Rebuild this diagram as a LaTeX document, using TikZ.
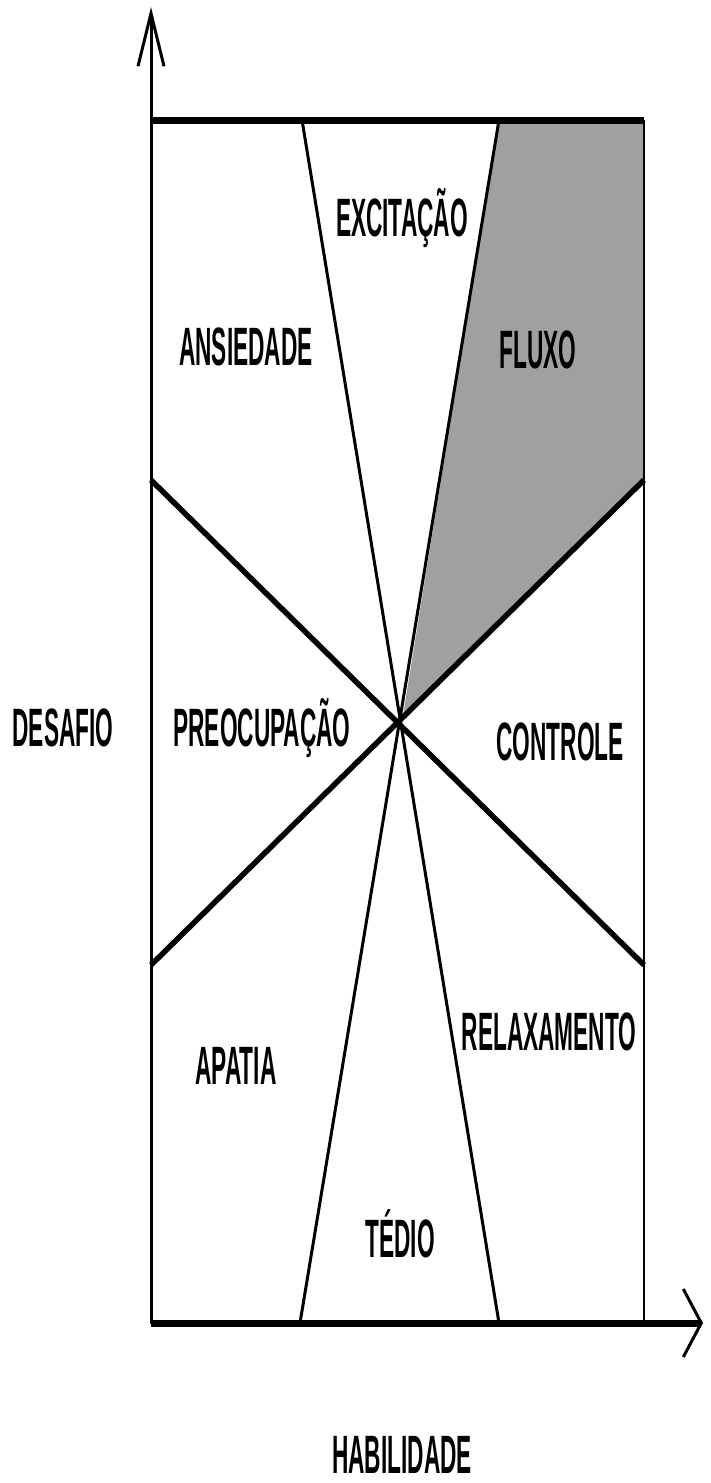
\documentclass[tikz,border=0pt]{standalone}
\usepackage{fontspec}
\newfontfamily\hand{Liberation Sans}[FakeStretch=0.42]
\usetikzlibrary{arrows.meta}
\definecolor{flowgray}{RGB}{160,160,160}
\begin{document}
\begin{tikzpicture}[x=1pt,y=-1pt,
  lbl/.style={font=\hand\bfseries\fontsize{54}{54}\selectfont, inner sep=0pt, anchor=base},
  axisline/.style={line width=3pt, line cap=round},
  thickline/.style={line width=7pt},
  diag/.style={line width=5.5pt},
  wedge/.style={line width=3pt},
  border/.style={line width=2pt}]
\useasboundingbox (0,0) rectangle (710,1483);
% key points
\coordinate (O) at (402,722);
\coordinate (TL) at (151,120);
\coordinate (TR) at (644,120);
\coordinate (BL) at (151,1323);
\coordinate (BR) at (644,1323);
\coordinate (YTIP) at (151,7);
\coordinate (XTIP) at (703,1323);
\coordinate (LU) at (151,480);
\coordinate (LD) at (151,965);
\coordinate (RU) at (644,480);
\coordinate (RD) at (644,965);
\coordinate (WTL) at (302,120);
\coordinate (WTR) at (499,120);
\coordinate (WBL) at (300,1323);
\coordinate (WBR) at (499,1323);
% flow region
\fill[flowgray] (WTR) -- (TR) -- (RU) -- (O) -- cycle;
% box
\draw[border] (TR) -- (BR);
\draw[wedge] (WTL) -- (WBR);
\draw[wedge] (WTR) -- (WBL);
\draw[diag] (LU) -- (RD);
\draw[diag] (LD) -- (RU);
\draw[thickline] (TL) -- (TR);
\draw[axisline, -{Straight Barb[length=53pt, width=26pt]}] (BL) -- (YTIP);
\draw[thickline, -{Straight Barb[length=18pt, width=68pt, line width=3pt]}] (BL) -- (XTIP);
% labels
\node[lbl] (excit) at (402,236) {EXCITAÇÃO};
\node[lbl] (ansie) at (246,365) {ANSIEDADE};
\node[lbl] (fluxo) at (538,368) {FLUXO};
\node[lbl] (desaf) at (63,746) {DESAFIO};
\node[lbl] (preoc) at (262,746) {PREOCUPAÇÃO};
\node[lbl] (contr) at (560,760) {CONTROLE};
\node[lbl] (relax) at (549,1050) {RELAXAMENTO};
\node[lbl] (apati) at (236,1084) {APATIA};
\node[lbl] (tedio) at (400,1257) {TÉDIO};
\node[lbl] (habil) at (402,1473) {HABILIDADE};
\end{tikzpicture}
\end{document}
